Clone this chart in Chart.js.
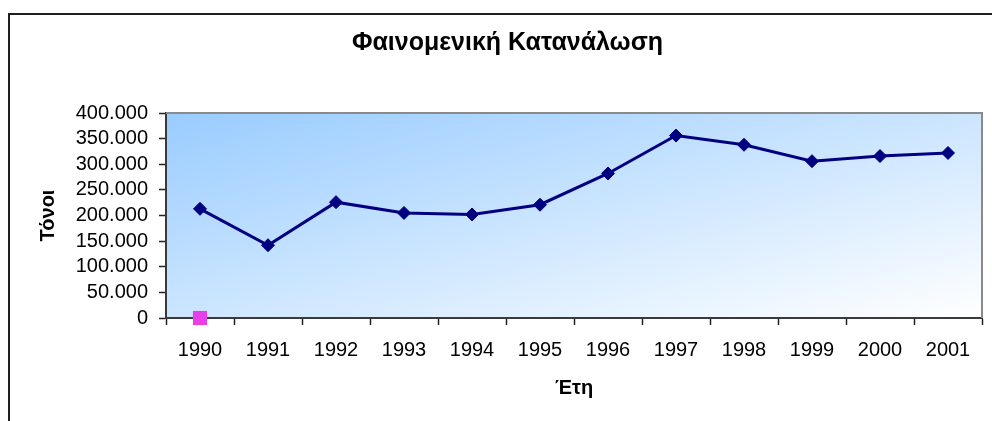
<!DOCTYPE html>
<html>
<head>
<meta charset="utf-8">
<script src="https://cdn.jsdelivr.net/npm/chart.js@4/dist/chart.umd.min.js"></script>
<style>
  html, body { margin: 0; padding: 0; background: #ffffff; }
  #c { display: block; }
</style>
</head>
<body>
<canvas id="c" width="992" height="421"></canvas>
<script>
// ---- data ----
const years = ['1990', '1991', '1992', '1993', '1994', '1995', '1996', '1997', '1998', '1999', '2000', '2001'];
const consumption = [213000, 142000, 226000, 205000, 202000, 221000, 282000, 356000, 338000, 306000, 316000, 322000];
const secondSeries = [0];
const yTickValues = [0, 50000, 100000, 150000, 200000, 250000, 300000, 350000, 400000];
const chartTitle = 'Φαινομενική Κατανάλωση';
const yTitle = 'Τόνοι';
const xTitle = 'Έτη';

function fmt(v) {
  return String(Math.round(v)).replace(/\B(?=(\d{3})+(?!\d))/g, '.');
}

const FONT = '"Liberation Sans", Arial, sans-serif';

const frame = {
  id: 'frame',
  beforeDraw(chart) {
    const ctx = chart.ctx;
    const { left, top, right, bottom } = chart.chartArea;
    ctx.save();
    ctx.fillStyle = '#ffffff';
    ctx.fillRect(0, 0, chart.width, chart.height);
    ctx.save();
    ctx.translate(left, top);
    ctx.scale(right - left, bottom - top);
    const g = ctx.createLinearGradient(0, 0, 1, 1);
    g.addColorStop(0, '#99ccff');
    g.addColorStop(1, '#ffffff');
    ctx.fillStyle = g;
    ctx.fillRect(0, 0, 1, 1);
    ctx.restore();
    ctx.fillStyle = '#1f1f1f';
    ctx.fillRect(8, 13, chart.width - 8, 2);
    ctx.fillRect(8, 13, 2, chart.height - 13);
    // chart title (the frame is cropped on the right, so it is centred on the full frame)
    ctx.fillStyle = '#000000';
    ctx.font = 'bold 25px ' + FONT;
    ctx.textAlign = 'center';
    ctx.textBaseline = 'middle';
    ctx.fillText(chartTitle, 507.5, 43.5);
    ctx.restore();
  },
  beforeDatasetsDraw(chart) {
    const ctx = chart.ctx;
    const { left, top, right, bottom } = chart.chartArea;
    ctx.save();
    ctx.strokeStyle = '#8a8a8a';
    ctx.lineWidth = 2;
    ctx.beginPath();
    ctx.moveTo(left, top);
    ctx.lineTo(right, top);
    ctx.lineTo(right, bottom);
    ctx.stroke();
    ctx.restore();
  }
};

new Chart(document.getElementById('c'), {
  type: 'line',
  data: {
    labels: years,
    datasets: [
      {
        label: 'Φαινομενική Κατανάλωση',
        data: consumption,
        borderColor: '#000080',
        backgroundColor: '#000080',
        borderWidth: 3,
        pointStyle: 'rectRot',
        pointRadius: 6.5,
        pointBorderWidth: 1,
        pointBackgroundColor: '#000080',
        pointBorderColor: '#000080',
        tension: 0,
        fill: false
      },
      {
        label: 'Σειρά 2',
        data: secondSeries,
        borderColor: '#ff00ff',
        backgroundColor: '#ff00ff',
        showLine: false,
        pointStyle: 'rect',
        pointRadius: 10,
        pointBorderWidth: 0,
        pointBackgroundColor: '#e640e6',
        clip: false
      }
    ]
  },
  options: {
    responsive: false,
    devicePixelRatio: 1,
    animation: false,
    layout: { padding: { left: 0, right: 7, top: 113, bottom: 0 } },
    plugins: {
      legend: { display: false },
      tooltip: { enabled: false },
      title: { display: false }
    },
    scales: {
      x: {
        type: 'category',
        offset: true,
        grid: {
          offset: true,
          drawOnChartArea: false,
          drawTicks: true,
          tickLength: 7,
          tickColor: '#222222',
          tickWidth: 1.5
        },
        border: { display: true, color: '#3a3a3a', width: 2 },
        ticks: {
          color: '#000000',
          font: { family: FONT, size: 20 },
          padding: 13.5,
          maxRotation: 0,
          autoSkip: false
        },
        title: {
          display: true,
          text: xTitle,
          color: '#000000',
          font: { family: FONT, size: 20, weight: 'bold' },
          padding: { top: 0, bottom: 21 }
        },
        afterFit(s) { s.height = 103; }
      },
      y: {
        min: 0,
        max: 400000,
        grid: {
          drawOnChartArea: false,
          drawTicks: true,
          tickLength: 7,
          tickColor: '#222222',
          tickWidth: 1.5
        },
        border: { display: true, color: '#3a3a3a', width: 2 },
        afterBuildTicks(s) { s.ticks = yTickValues.map(v => ({ value: v })); },
        ticks: {
          color: '#000000',
          font: { family: FONT, size: 20 },
          padding: 11,
          autoSkip: false,
          callback: v => fmt(v)
        },
        title: {
          display: true,
          text: yTitle,
          color: '#000000',
          font: { family: FONT, size: 20, weight: 'bold' },
          padding: { top: 36, bottom: 0 }
        },
        afterFit(s) { s.width = 166; }
      }
    }
  },
  plugins: [frame]
});
</script>
</body>
</html>
